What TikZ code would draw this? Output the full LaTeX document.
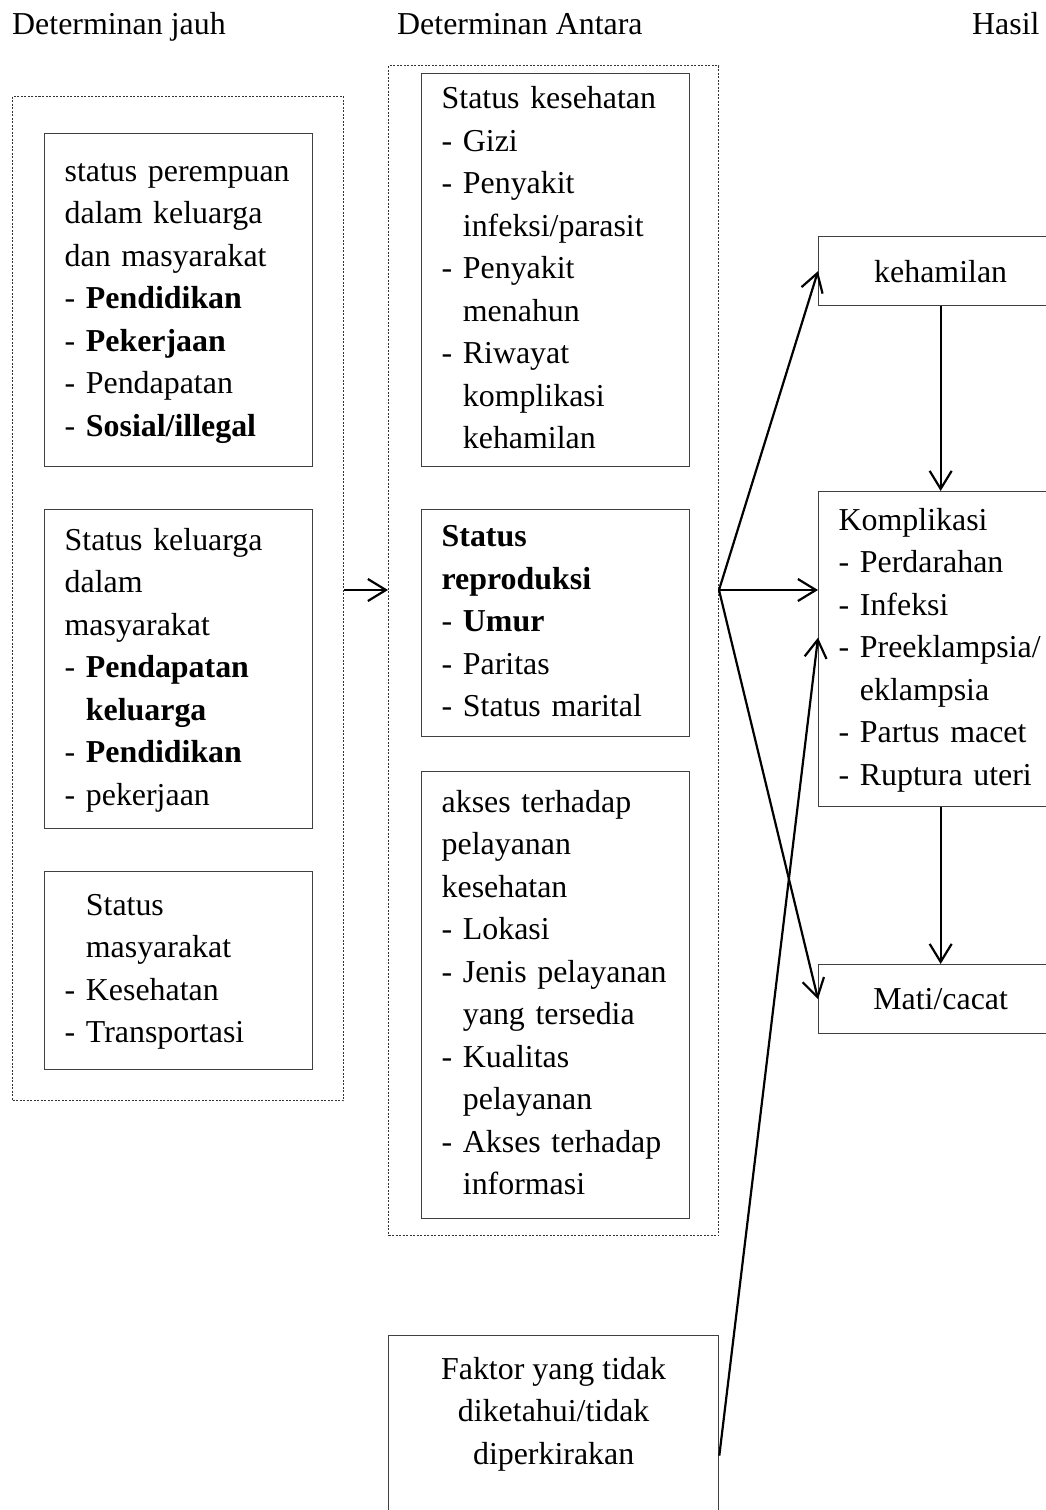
\documentclass[tikz,border=0pt]{standalone}
\usepackage{fontspec}
\setmainfont{Liberation Serif}
\usetikzlibrary{arrows.meta}
\newcommand{\inden}{\hphantom{- }}
\begin{document}
\begin{tikzpicture}[x=1pt,y=-1pt,font=\fontsize{31.9}{42.5}\selectfont]
	% Styles
	\tikzstyle{panah}=[-{Straight Barb[length=18pt,width=22pt]},line width=2.2pt]
	\tikzstyle{bingkai}=[draw=black!80,line width=1pt,dash pattern=on 2pt off 1.5pt,anchor=north west,inner sep=0pt]
	\tikzstyle{kotak}=[draw=black!75,line width=1.3pt,anchor=north west,align=left,inner xsep=20pt,inner ysep=2pt,text width=228pt,execute at begin node=\strut,execute at end node=\strut]
	\tikzstyle{hasil}=[draw=black!75,line width=1.3pt,anchor=north west,minimum width=244pt,minimum height=69pt,inner sep=0pt]
	\tikzstyle{judul}=[anchor=base west,inner sep=0pt]
	% Dimensions
	\def\KolomA{44}
	\def\KolomB{421}
	\def\KolomC{818}
	\def\BarisCabang{590}
	\clip (0,0) rectangle (1046,1510);
	% Titres
	\node[judul] (judulJauh) at (12,34) {Determinan jauh};
	\node[judul] (judulAntara) at (397,34) {Determinan Antara};
	\node[judul] (judulHasil) at (972,34) {Hasil};
	% Cadres
	\node[bingkai,minimum width=331pt,minimum height=1004pt] (jauh) at (12,96) {};
	\node[bingkai,minimum width=330pt,minimum height=1170pt] (antara) at (388,65) {};
	% Noeuds
	\node[kotak,minimum height=333pt] (perempuan) at (\KolomA,133) {status perempuan\\dalam keluarga\\dan masyarakat\\- \textbf{Pendidikan}\\- \textbf{Pekerjaan}\\- Pendapatan\\- \textbf{Sosial/illegal}};
	\node[kotak,minimum height=319pt] (keluarga) at (\KolomA,509) {Status keluarga\\dalam\\masyarakat\\- \textbf{Pendapatan}\\\inden\textbf{keluarga}\\- \textbf{Pendidikan}\\- pekerjaan};
	\node[kotak,minimum height=198pt] (masyarakat) at (\KolomA,871) {\inden Status\\\inden masyarakat\\- Kesehatan\\- Transportasi};
	\node[kotak,minimum height=393pt] (kesehatan) at (\KolomB,73) {Status kesehatan\\- Gizi\\- Penyakit\\\inden infeksi/parasit\\- Penyakit\\\inden menahun\\- Riwayat\\\inden komplikasi\\\inden kehamilan};
	\node[kotak,minimum height=227pt] (reproduksi) at (\KolomB,509) {\textbf{Status}\\\textbf{reproduksi}\\- \textbf{Umur}\\- Paritas\\- Status marital};
	\node[kotak,minimum height=447pt] (akses) at (\KolomB,771) {akses terhadap\\pelayanan\\kesehatan\\- Lokasi\\- Jenis pelayanan\\\inden yang tersedia\\- Kualitas\\\inden pelayanan\\- Akses terhadap\\\inden informasi};
	\node[draw=black!75,line width=1.3pt,anchor=north west,minimum width=330pt,minimum height=240pt] (faktor) at (388,1335) {};
	\node[anchor=north,align=center,inner sep=0pt,execute at begin node=\strut] (faktorTeks) at ([yshift=-22pt]faktor.north) {Faktor yang tidak\\diketahui/tidak\\diperkirakan};
	\node[hasil] (kehamilan) at (\KolomC,236) {kehamilan};
	\node[kotak,text width=204pt,minimum height=315pt] (komplikasi) at (\KolomC,491) {Komplikasi\\- Perdarahan\\- Infeksi\\- Preeklampsia/\\\inden eklampsia\\- Partus macet\\- Ruptura uteri};
	\node[hasil] (mati) at (\KolomC,964) {Mati/cacat};
	\coordinate (cabang) at (antara.east |- 0,\BarisCabang);
	% Arcs
	\draw[panah] (jauh.east |- cabang) -- (antara.west |- cabang);
	\draw[panah] (cabang) -- (kehamilan.west);
	\draw[panah] (cabang) -- (komplikasi.west |- cabang);
	\draw[panah] (cabang) -- (mati.west);
	\draw[panah] (faktor.east) -- ([yshift=11.5pt]komplikasi.west);
	\draw[panah] (kehamilan.south) -- (komplikasi.north);
	\draw[panah] (komplikasi.south) -- (mati.north);
\end{tikzpicture}
\end{document}
